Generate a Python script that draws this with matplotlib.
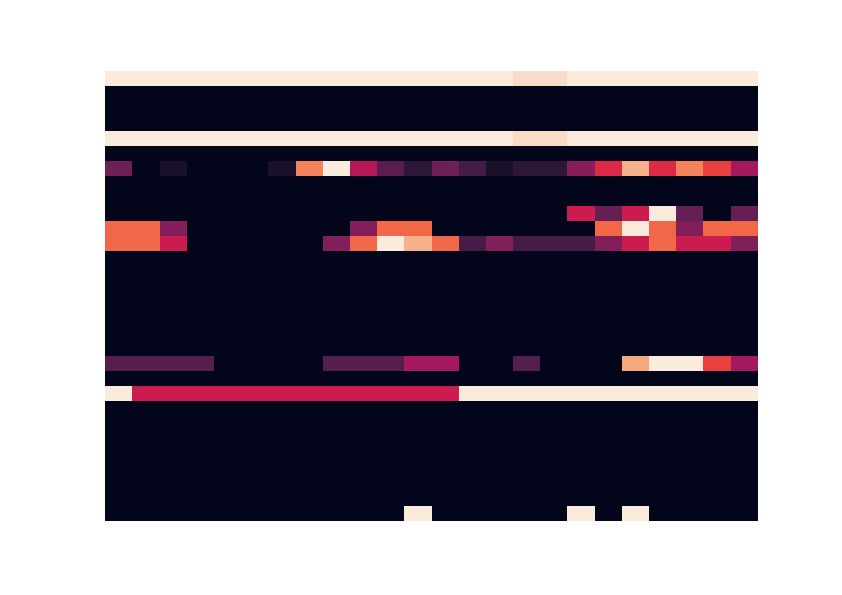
import numpy as np
import matplotlib
matplotlib.use("Agg")
import matplotlib.pyplot as plt
import seaborn as sns

n_rows = 30
n_cols = 24

# non-zero rows (0 = darkest, 1 = lightest)
row_0 = [1.0] * 15 + [0.96, 0.96] + [1.0] * 7
row_4 = [1.0] * 15 + [0.96, 0.96] + [1.0] * 7
row_6 = [0.28, 0, 0.07, 0, 0, 0, 0.07, 0.74, 1.0, 0.45, 0.23, 0.12,
         0.28, 0.18, 0.07, 0.12, 0.12, 0.34, 0.55, 0.85, 0.55, 0.74, 0.6, 0.41]
row_9 = [0] * 17 + [0.5, 0.26, 0.5, 1.0, 0.26, 0, 0.26]
row_10 = [0.68, 0.68, 0.33, 0, 0, 0, 0, 0, 0, 0.33, 0.68, 0.68,
          0, 0, 0, 0, 0, 0, 0.68, 1.0, 0.68, 0.33, 0.68, 0.68]
row_11 = [0.68, 0.68, 0.5, 0, 0, 0, 0, 0, 0.33, 0.68, 1.0, 0.85,
          0.68, 0.18, 0.33, 0.18, 0.18, 0.18, 0.33, 0.5, 0.68, 0.5, 0.5, 0.33]
row_19 = [0.22, 0.22, 0.22, 0.22, 0, 0, 0, 0, 0.22, 0.22, 0.22, 0.41,
          0.41, 0, 0, 0.22, 0, 0, 0, 0.83, 1.0, 1.0, 0.6, 0.41]
row_21 = [1.0] + [0.5] * 12 + [1.0] * 11
row_29 = [0] * 11 + [1.0] + [0] * 5 + [1.0, 0, 1.0] + [0] * 4

data = np.zeros((n_rows, n_cols))
data[0] = row_0
data[4] = row_4
data[6] = row_6
data[9] = row_9
data[10] = row_10
data[11] = row_11
data[19] = row_19
data[21] = row_21
data[29] = row_29

fig = plt.figure(figsize=(8.42, 5.95), dpi=100)
ax = fig.add_axes([0.125, 0.125, 0.775, 0.755])
sns.heatmap(data, cmap="rocket", vmin=0, vmax=1, cbar=False,
            xticklabels=False, yticklabels=False, ax=ax)

plt.savefig("out.png", dpi=100)
plt.close()
